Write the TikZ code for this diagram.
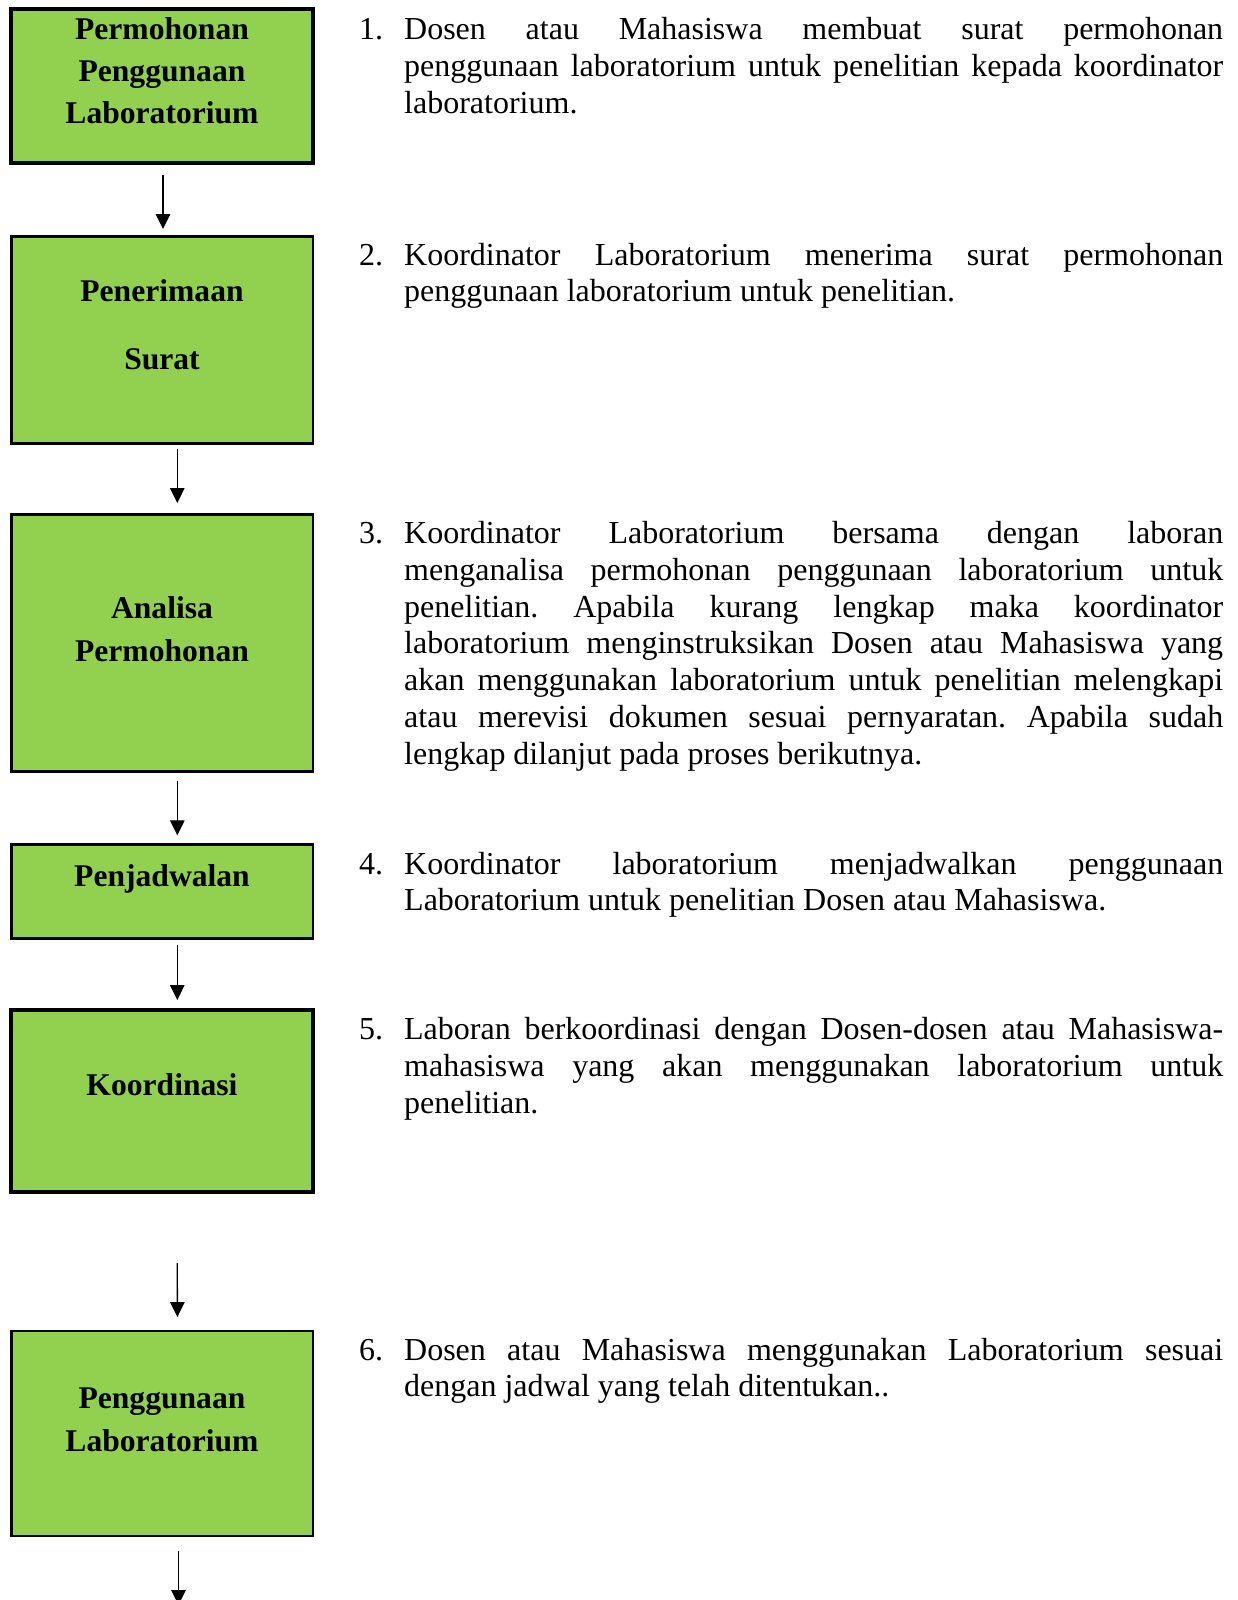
\documentclass[tikz,border=0pt]{standalone}
\usepackage{fontspec}
\setmainfont{Liberation Serif}
\usetikzlibrary{arrows.meta}
\definecolor{boxgreen}{HTML}{92D050}
% one numbered description paragraph with a hanging number
\newcommand\descitem[2]{\frenchspacing\tolerance=9999\hyphenpenalty=10000\exhyphenpenalty=10000%
  \hangindent=45pt\hangafter=1\noindent\makebox[45pt][l]{#1}#2\par}
\begin{document}
\begin{tikzpicture}[x=1pt,y=-1pt,
  stepbox/.style={draw=black,fill=boxgreen,line width=2.7pt,inner sep=0pt,outer sep=0pt},
  heavybox/.style={stepbox,line width=3.7pt},
  boxlabel/.style={anchor=base,inner sep=0pt,font=\fontsize{31.6}{42}\selectfont\bfseries},
  desc/.style={anchor=base west,inner sep=0pt,text width=864pt,align=justify,
    font=\fontsize{32}{36.8}\selectfont},
  flow/.style={line width=1.3pt,-{Triangle[length=15pt,width=14.5pt]}}]
\useasboundingbox (0,0) rectangle (1237,1600);
\fill[white] (0,0) rectangle (1237,1600);
\clip (0,0) rectangle (1237,1600);

% process boxes
\node[heavybox,minimum width=302pt,minimum height=153.7pt] (b1) at (162.3,86.2) {};
\node[stepbox,minimum width=301.7pt,minimum height=207pt] (b2) at (162.2,339.8) {};
\node[stepbox,minimum width=301.7pt,minimum height=257pt] (b3) at (162.2,643.2) {};
\node[stepbox,minimum width=301.7pt,minimum height=94.4pt] (b4) at (162.2,891.5) {};
\node[heavybox,minimum width=302.6pt,minimum height=181.4pt] (b5) at (162,1101) {};
\node[stepbox,minimum width=301.7pt,minimum height=205pt] (b6) at (162.2,1433.5) {};

% box labels
\node[boxlabel] (b1a) at (162,40) {Permohonan};
\node[boxlabel] (b1b) at (162,82) {Penggunaan};
\node[boxlabel] (b1c) at (162,124) {Laboratorium};
\node[boxlabel] (b2a) at (162,301.7) {Penerimaan};
\node[boxlabel] (b2b) at (162,369) {Surat};
\node[boxlabel] (b3a) at (162,618.5) {Analisa};
\node[boxlabel] (b3b) at (162,661.3) {Permohonan};
\node[boxlabel] (b4a) at (162,886.7) {Penjadwalan};
\node[boxlabel] (b5a) at (162,1095) {Koordinasi};
\node[boxlabel] (b6a) at (162,1408.5) {Penggunaan};
\node[boxlabel] (b6b) at (162,1451.5) {Laboratorium};

% flow arrows
\draw[flow] ([shift={(0.7,12)}]b1.south) -- ([shift={(0.8,-7.3)}]b2.north);
\draw[flow] ([shift={(15.1,5.7)}]b2.south) -- ([shift={(15.1,-11.7)}]b3.north);
\draw[flow] ([shift={(15.1,9)}]b3.south) -- ([shift={(15.1,-9)}]b4.north);
\draw[flow] ([shift={(15.1,6.6)}]b4.south) -- ([shift={(15.3,-10.3)}]b5.north);
\draw[flow] ([shift={(15.3,71.3)}]b5.south) -- ([shift={(15.2,-14)}]b6.north);
\coordinate (next) at (178.5,1605);
\draw[flow] ([shift={(16.3,15)}]b6.south) -- (next);

% descriptions
\node[desc] (t1) at (359,39.5) {\descitem{1.}{Dosen atau Mahasiswa membuat surat permohonan\linebreak
  penggunaan laboratorium untuk penelitian kepada koordinator\linebreak laboratorium.}};
\node[desc] (t2) at (359,265) {\descitem{2.}{Koordinator Laboratorium menerima surat permohonan\linebreak
  penggunaan laboratorium untuk penelitian.}};
\node[desc] (t3) at (359,543.5) {\descitem{3.}{Koordinator Laboratorium bersama dengan laboran\linebreak
  menganalisa permohonan penggunaan laboratorium untuk\linebreak
  penelitian. Apabila kurang lengkap maka koordinator\linebreak
  laboratorium menginstruksikan Dosen atau Mahasiswa yang\linebreak
  akan menggunakan laboratorium untuk penelitian melengkapi\linebreak
  atau merevisi dokumen sesuai pernyaratan. Apabila sudah\linebreak
  lengkap dilanjut pada proses berikutnya.}};
\node[desc] (t4) at (359,874) {\descitem{4.}{Koordinator laboratorium menjadwalkan penggunaan\linebreak
  Laboratorium untuk penelitian Dosen atau Mahasiswa.}};
\node[desc] (t5) at (359,1039.5) {\descitem{5.}{Laboran berkoordinasi dengan Dosen-dosen atau Mahasiswa-\linebreak
  mahasiswa yang akan menggunakan laboratorium untuk\linebreak
  penelitian.}};
\node[desc] (t6) at (359,1360) {\descitem{6.}{Dosen atau Mahasiswa menggunakan Laboratorium sesuai\linebreak
  dengan jadwal yang telah ditentukan..}};
\end{tikzpicture}
\end{document}
